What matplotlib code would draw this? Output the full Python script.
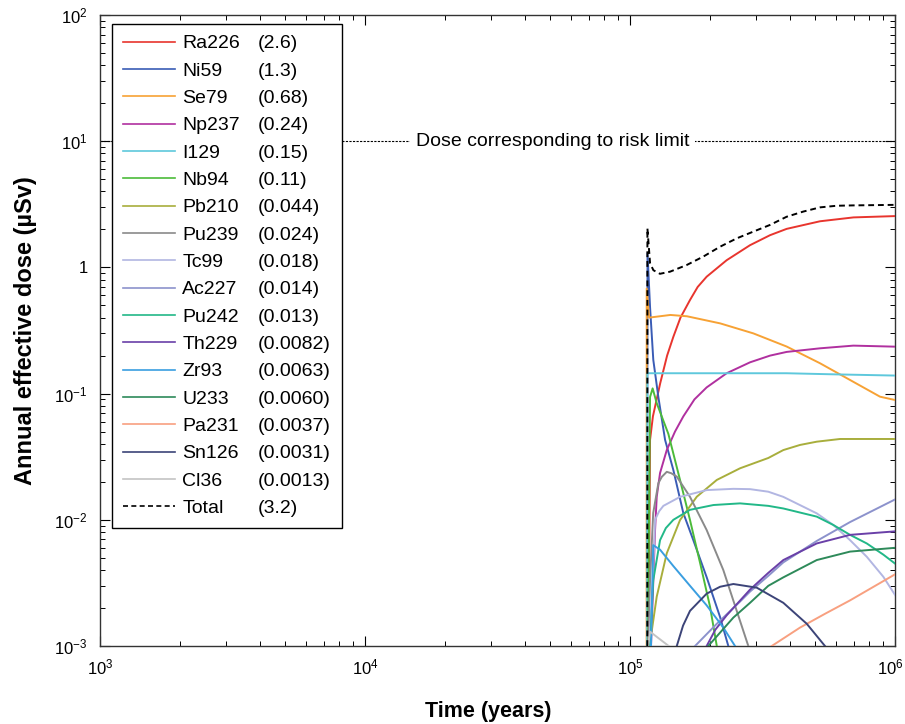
import matplotlib
matplotlib.use("Agg")
import matplotlib.pyplot as plt
import matplotlib.transforms as mtransforms
from matplotlib.lines import Line2D

plt.rcParams['font.family'] = ['Liberation Sans', 'DejaVu Sans']
plt.rcParams['mathtext.fontset'] = 'custom'
plt.rcParams['mathtext.rm'] = 'Liberation Sans'
plt.rcParams['mathtext.default'] = 'regular'

# ---- data (time in years, dose in uSv/y) ----
t_ra226 = [1.176e5, 1.19e5, 1.22e5, 1.30e5, 1.38e5, 1.457e5, 1.55e5, 1.684e5, 1.80e5, 1.946e5, 2.315e5, 2.837e5, 3.375e5, 3.90e5, 5.21e5, 6.97e5, 1e6]
d_ra226 = [1e-3, 0.043, 0.066, 0.121, 0.20, 0.282, 0.40, 0.552, 0.70, 0.844, 1.14, 1.50, 1.80, 2.02, 2.32, 2.49, 2.55]

t_ni59 = [1.159e5, 1.164e5, 1.19e5, 1.224e5, 1.279e5, 1.356e5, 1.457e5, 1.589e5, 1.733e5, 1.947e5, 2.186e5, 2.349e5]
d_ni59 = [1e-3, 1.3, 0.485, 0.185, 0.094, 0.043, 0.0248, 0.0113, 0.0069, 0.0035, 0.0017, 1e-3]

t_se79 = [1.155e5, 1.156e5, 1.18e5, 1.42e5, 1.64e5, 2.19e5, 2.92e5, 3.90e5, 5.21e5, 6.96e5, 8.78e5, 1e6]
d_se79 = [1e-3, 0.68, 0.40, 0.42, 0.41, 0.36, 0.30, 0.236, 0.174, 0.124, 0.0945, 0.089]

t_np237 = [1.20e5, 1.243e5, 1.261e5, 1.298e5, 1.376e5, 1.478e5, 1.589e5, 1.75e5, 1.946e5, 2.315e5, 2.837e5, 3.375e5, 3.90e5, 5.21e5, 6.96e5, 1e6]
d_np237 = [1e-3, 0.0083, 0.0152, 0.0235, 0.0357, 0.050, 0.066, 0.090, 0.112, 0.145, 0.177, 0.20, 0.214, 0.2285, 0.240, 0.2355]

t_i129 = [1.16e5, 1.162e5, 3.9e5, 6.0e5, 1e6]
d_i129 = [1e-3, 0.145, 0.145, 0.142, 0.139]

t_nb94 = [1.169e5, 1.19e5, 1.217e5, 1.261e5, 1.395e5, 1.544e5, 1.684e5, 1.838e5, 2.004e5, 2.125e5]
d_nb94 = [1e-3, 0.094, 0.11, 0.084, 0.048, 0.0207, 0.00995, 0.00455, 0.00205, 1e-3]

t_pb210 = [1.185e5, 1.261e5, 1.376e5, 1.544e5, 1.786e5, 2.125e5, 2.601e5, 3.325e5, 3.788e5, 4.38e5, 5.065e5, 6.2e5, 1e6]
d_pb210 = [1e-3, 0.00246, 0.00543, 0.00995, 0.01524, 0.0207, 0.0256, 0.0309, 0.0357, 0.0392, 0.0416, 0.0437, 0.0437]

t_pu239 = [1.169e5, 1.19e5, 1.223e5, 1.279e5, 1.318e5, 1.376e5, 1.43e5, 1.501e5, 1.684e5, 1.946e5, 2.249e5, 2.527e5, 2.795e5]
d_pu239 = [1e-3, 0.0033, 0.0113, 0.0195, 0.0219, 0.024, 0.0234, 0.022, 0.0152, 0.0083, 0.0040, 0.0019, 1e-3]

t_tc99 = [1.18e5, 1.223e5, 1.243e5, 1.288e5, 1.336e5, 1.544e5, 1.946e5, 2.454e5, 2.837e5, 3.325e5, 3.788e5, 5.065e5, 5.85e5, 6.765e5, 7.82e5, 9.03e5, 1e6]
d_tc99 = [1e-3, 0.0040, 0.0100, 0.0117, 0.0129, 0.0152, 0.0172, 0.0176, 0.0175, 0.0167, 0.0152, 0.01125, 0.0091, 0.0069, 0.0051, 0.00354, 0.00254]

t_ac227 = [1.759e5, 2.125e5, 2.601e5, 2.837e5, 3.325e5, 3.788e5, 5.065e5, 6.765e5, 1e6]
d_ac227 = [1e-3, 0.0015, 0.00225, 0.0027, 0.0036, 0.0046, 0.0068, 0.0096, 0.0145]

t_pu242 = [1.19e5, 1.223e5, 1.298e5, 1.365e5, 1.457e5, 1.684e5, 2.064e5, 2.601e5, 3.325e5, 3.788e5, 5.065e5, 5.85e5, 6.765e5, 7.82e5, 9.03e5, 1e6]
d_pu242 = [1e-3, 0.0033, 0.0069, 0.0086, 0.0100, 0.0120, 0.0131, 0.0135, 0.0129, 0.0123, 0.0106, 0.0091, 0.0076, 0.0065, 0.0053, 0.0045]

t_th229 = [1.946e5, 2.10e5, 2.315e5, 2.837e5, 3.325e5, 3.788e5, 5.065e5, 6.765e5, 1e6]
d_th229 = [1e-3, 0.00135, 0.00175, 0.0028, 0.0038, 0.0048, 0.0065, 0.0076, 0.0081]

t_zr93 = [1.20e5, 1.223e5, 1.298e5, 1.457e5, 1.684e5, 1.946e5, 2.249e5, 2.49e5]
d_zr93 = [1e-3, 0.0063, 0.0058, 0.0043, 0.0030, 0.0021, 0.0014, 1e-3]

t_u233 = [1.973e5, 2.454e5, 2.837e5, 3.325e5, 3.788e5, 5.065e5, 6.765e5, 1e6]
d_u233 = [1e-3, 0.00168, 0.0022, 0.0030, 0.0035, 0.0048, 0.0056, 0.0060]

t_pa231 = [3.425e5, 4.38e5, 5.44e5, 6.765e5, 1e6]
d_pa231 = [1e-3, 0.0014, 0.0018, 0.0023, 0.0037]

t_sn126 = [1.501e5, 1.585e5, 1.684e5, 1.946e5, 2.188e5, 2.454e5, 3.007e5, 3.788e5, 4.645e5, 5.44e5]
d_sn126 = [1e-3, 0.00145, 0.0019, 0.0026, 0.00295, 0.0031, 0.0029, 0.0022, 0.0015, 1e-3]

t_cl36 = [1.17e5, 1.19e5, 1.25e5, 1.4e5]
d_cl36 = [1e-3, 0.0013, 0.0012, 1e-3]

t_total = [1.162e5, 1.163e5, 1.19e5, 1.225e5, 1.297e5, 1.416e5, 1.637e5, 1.892e5, 2.188e5, 2.529e5, 2.917e5, 3.373e5, 3.899e5, 4.508e5, 5.212e5, 6.026e5, 6.966e5, 1e6]
d_total = [1e-3, 2.04, 1.08, 0.95, 0.89, 0.925, 1.045, 1.22, 1.46, 1.70, 1.92, 2.17, 2.52, 2.77, 2.99, 3.08, 3.10, 3.13]

names = ['Ra226', 'Ni59', 'Se79', 'Np237', 'I129', 'Nb94', 'Pb210', 'Pu239', 'Tc99',
         'Ac227', 'Pu242', 'Th229', 'Zr93', 'U233', 'Pa231', 'Sn126', 'Cl36']
peaks = ['(2.6)', '(1.3)', '(0.68)', '(0.24)', '(0.15)', '(0.11)', '(0.044)', '(0.024)', '(0.018)',
         '(0.014)', '(0.013)', '(0.0082)', '(0.0063)', '(0.0060)', '(0.0037)', '(0.0031)', '(0.0013)']
series = [(t_ra226, d_ra226), (t_ni59, d_ni59), (t_se79, d_se79), (t_np237, d_np237),
          (t_i129, d_i129), (t_nb94, d_nb94), (t_pb210, d_pb210), (t_pu239, d_pu239),
          (t_tc99, d_tc99), (t_ac227, d_ac227), (t_pu242, d_pu242), (t_th229, d_th229),
          (t_zr93, d_zr93), (t_u233, d_u233), (t_pa231, d_pa231), (t_sn126, d_sn126),
          (t_cl36, d_cl36)]
colors = ['#e8352e', '#3a5cb5', '#f7a235', '#b0309f', '#5ec8dc', '#4cbb3a', '#a8ae3c', '#8a8a8a',
          '#b2b6e2', '#8c92cc', '#22b888', '#6a40a8', '#3a9ee0', '#2e8a5a', '#f8a080', '#3c4478',
          '#c4c4c4']

fig = plt.figure(figsize=(9.05, 7.24), dpi=100)
ax = fig.add_axes([0.1105, 0.1077, 0.8785, 0.8716])

lines = []
for (t, d), c in zip(series, colors):
    ln, = ax.plot(t, d, color=c, lw=1.4, zorder=3)
    lines.append(ln)
ln_tot, = ax.plot(t_total, d_total, color='k', lw=1.4, ls=(0, (3, 2)), zorder=4)
lines.append(ln_tot)

# risk limit
ax.axhline(10, color='k', lw=0.8, ls=(0, (2, 1.2)), zorder=2)
ax.text(5.1e4, 10, 'Dose corresponding to risk limit', ha='center', va='center',
        fontsize=14, zorder=3,
        bbox=dict(boxstyle='square,pad=0.3', fc='white', ec='none'))

ax.set_xscale('log')
ax.set_yscale('log')
ax.set_xlim(1e3, 1e6)
ax.set_ylim(1e-3, 1e2)

ax.set_xticks([1e3, 1e4, 1e5, 1e6], ['$10^3$', '$10^4$', '$10^5$', '$10^6$'])
ax.set_yticks([1e-3, 1e-2, 1e-1, 1, 10, 100],
              ['$10^{-3}$', '$10^{-2}$', '$10^{-1}$', '1', '$10^1$', '$10^2$'])
ax.tick_params(which='both', direction='in', top=True, right=True, labelsize=12)
ax.tick_params(which='major', length=7, width=0.8)
ax.tick_params(which='minor', length=3.5, width=0.7)
ax.tick_params(axis='x', pad=8)
ax.tick_params(axis='y', pad=9)
for s in ax.spines.values():
    s.set_linewidth(1.0)
    s.set_color('#333333')
# keep the last x label inside the figure
lab6 = ax.get_xticklabels()[-1]
lab6.set_transform(lab6.get_transform() + mtransforms.ScaledTranslation(-0.05, 0, fig.dpi_scale_trans))

ax.set_xlabel('Time (years)', fontsize=15.5, fontweight='bold')
ax.xaxis.set_label_coords(0.488, -0.087)
ax.set_ylabel('Annual effective dose (\u00b5Sv)', fontsize=17, fontweight='bold', labelpad=12)

labels = names + ['Total']
values = peaks + ['(3.2)']
blanks = [Line2D([], [], color='none') for _ in labels]
leg = ax.legend(lines + blanks, labels + values, ncol=2, loc='upper left',
                bbox_to_anchor=(0.015, 0.986), borderaxespad=0, fontsize=14,
                handlelength=2.7, handletextpad=0.36, columnspacing=-2.15,
                labelspacing=0.5, borderpad=0.56, fancybox=False,
                edgecolor='k', framealpha=1)
leg.get_frame().set_linewidth(1.0)
leg.set_zorder(5)
for h in leg.legend_handles[:18]:
    h.set_linewidth(1.2)

fig.savefig('out.png', dpi=100)
